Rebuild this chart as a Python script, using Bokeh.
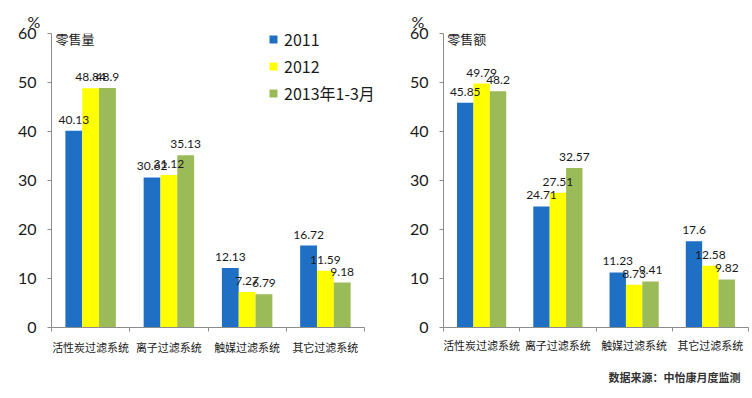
from bokeh.plotting import figure
from bokeh.layouts import row
from bokeh.models import (ColumnDataSource, FixedTicker, Label, Legend, LegendItem,
                          Range1d, Title)
from bokeh.embed import file_html
from bokeh.resources import INLINE
from bokeh.core.properties import value

categories = ["活性炭过滤系统", "离子过滤系统", "触媒过滤系统", "其它过滤系统"]
series_names = ["2011", "2012", "2013年1-3月"]
colors = ["#1F6FC5", "#FFFF00", "#9BBB59"]

volume_2011 = [40.13, 30.62, 12.13, 16.72]
volume_2012 = [48.84, 31.12, 7.27, 11.59]
volume_2013 = [48.9, 35.13, 6.79, 9.18]

amount_2011 = [45.85, 24.71, 11.23, 17.6]
amount_2012 = [49.79, 27.51, 8.73, 12.58]
amount_2013 = [48.2, 32.57, 9.41, 9.82]

y_ticks = [0, 10, 20, 30, 40, 50, 60]

NUM = "Lato"
CJK = "Noto Sans CJK SC"
TXT = "#1a1a1a"
AX = "#8c8c8c"


def make_chart(series, title, width, height, borders, x_end, pct_offset, pct_standoff,
               cat_standoff, legend=False):
    bl, br, bt, bb = borders
    p = figure(width=width, height=height, output_backend="svg", toolbar_location=None,
               x_range=Range1d(0, x_end), y_range=Range1d(0, 60),
               min_border_left=bl, min_border_right=br, min_border_top=bt,
               min_border_bottom=bb, outline_line_color=None,
               border_fill_color="white", background_fill_color="white")
    p.grid.visible = False

    bw = 0.215
    offsets = [-bw, 0, bw]
    renderers = []
    sources = []
    for vals, off, col in zip(series, offsets, colors):
        xs = [i + 0.5 + off for i in range(len(categories))]
        src = ColumnDataSource(dict(x=xs, top=vals, lab=[str(v) for v in vals]))
        r = p.vbar(x="x", top="top", width=bw, source=src, fill_color=col,
                   line_color=None)
        renderers.append(r)
        sources.append(src)
    for src in sources:
        p.text(x="x", y="top", text="lab", source=src, text_align="center",
               text_baseline="bottom", y_offset=-7, text_font=value(NUM),
               text_font_size="12px", text_color=TXT)

    xa = p.xaxis[0]
    xa.bounds = (0, len(categories))
    xa.ticker = FixedTicker(ticks=[i + 0.5 for i in range(len(categories))],
                            minor_ticks=list(range(len(categories) + 1)))
    xa.major_label_overrides = {i + 0.5: c for i, c in enumerate(categories)}
    xa.major_tick_out = 0
    xa.major_tick_in = 0
    xa.minor_tick_out = 4
    xa.minor_tick_in = 0
    xa.minor_tick_line_color = AX
    xa.axis_line_color = AX
    xa.major_label_text_font = CJK
    xa.major_label_text_font_size = "11px"
    xa.major_label_text_color = TXT
    xa.major_label_standoff = cat_standoff

    ya = p.yaxis[0]
    ya.ticker = FixedTicker(ticks=y_ticks, minor_ticks=[])
    ya.major_tick_out = 4
    ya.major_tick_in = 0
    ya.major_tick_line_color = AX
    ya.axis_line_color = AX
    ya.major_label_text_font = NUM
    ya.major_label_text_font_size = "16px"
    ya.major_label_text_color = TXT
    ya.major_label_standoff = 11

    p.add_layout(Label(x=0.05, y=58.9, text=title, text_font=CJK, text_font_size="13px",
                       text_color=TXT, text_baseline="middle"))
    p.add_layout(Title(text="%", align="left", offset=pct_offset, standoff=pct_standoff,
                       vertical_align="top", text_font=NUM, text_font_size="16px",
                       text_color=TXT, text_font_style="normal"), "above")

    if legend:
        items = [LegendItem(label=n, renderers=[r]) for n, r in zip(series_names, renderers)]
        lg = Legend(items=items, location=(217, 222), orientation="vertical",
                    glyph_width=10, glyph_height=10, label_height=24,
                    label_standoff=6, spacing=3, padding=0, margin=0,
                    border_line_color=None, background_fill_alpha=0,
                    label_text_font=CJK, label_text_font_size="16px",
                    label_text_color=TXT)
        p.add_layout(lg)
    return p


H = 396
left = make_chart([volume_2011, volume_2012, volume_2013], "零售量", 395, H,
                  (51, 0, 33, 65), 4.396, -24, 1, 7, legend=True)
right = make_chart([amount_2011, amount_2012, amount_2013], "零售额", 357, H,
                   (48, 4, 33, 65), 4, -32, 1, 5)
right.add_layout(Title(text="数据来源：中怡康月度监测", align="right", standoff=23,
                       offset=8, text_font=CJK, text_font_size="11px",
                       text_color="#333333", text_font_style="bold"), "below")

layout = row(left, right, spacing=0)
open("out.html", "w").write(file_html(layout, INLINE))
